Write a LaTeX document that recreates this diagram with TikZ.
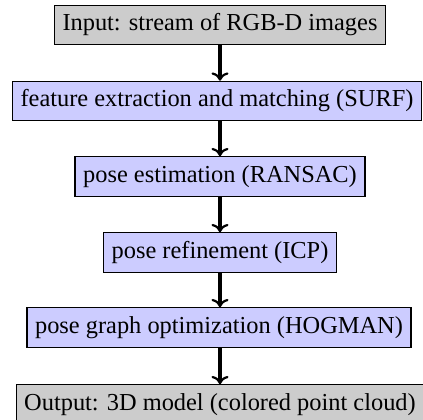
\documentclass[tikz,border=0pt]{standalone}
\usepackage{fontspec}
\setmainfont{Liberation Serif}
\usetikzlibrary{arrows.meta}
\begin{document}
\begin{tikzpicture}[x=0.41pt,y=-0.41pt,
  box/.style={draw=black, line width=0.45pt, inner sep=3.33pt, minimum height=16.2pt, font=\fontsize{10}{12}\selectfont},
  iobox/.style={box, fill=black!20},
  stepbox/.style={box, fill=blue!20},
  flow/.style={-{To[length=3.4pt,width=7pt,line width=0.9pt]}, line width=1.35pt}]
\useasboundingbox (0,0) rectangle (423,419);
\node[iobox]   (in)  at (220,25)    {Input: stream of RGB-D images};
\node[stepbox] (fe)  at (217,101)   {feature extraction and matching (SURF)};
\node[stepbox] (pe)  at (220,176.5) {pose estimation (RANSAC)};
\node[stepbox] (pr)  at (220,252.5) {pose refinement (ICP)};
\node[stepbox] (pg)  at (219,327.5) {pose graph optimization (HOGMAN)};
\node[iobox]   (out) at (220,404.5) {Output: 3D model (colored point cloud)};
\draw[flow] (in.south) -- (in.south|-fe.north);
\draw[flow] (in.south|-fe.south) -- (pe.north);
\draw[flow] (pe.south) -- (pr.north);
\draw[flow] (pr.south) -- (pr.south|-pg.north);
\draw[flow] (pr.south|-pg.south) -- (out.north);
\end{tikzpicture}
\end{document}
